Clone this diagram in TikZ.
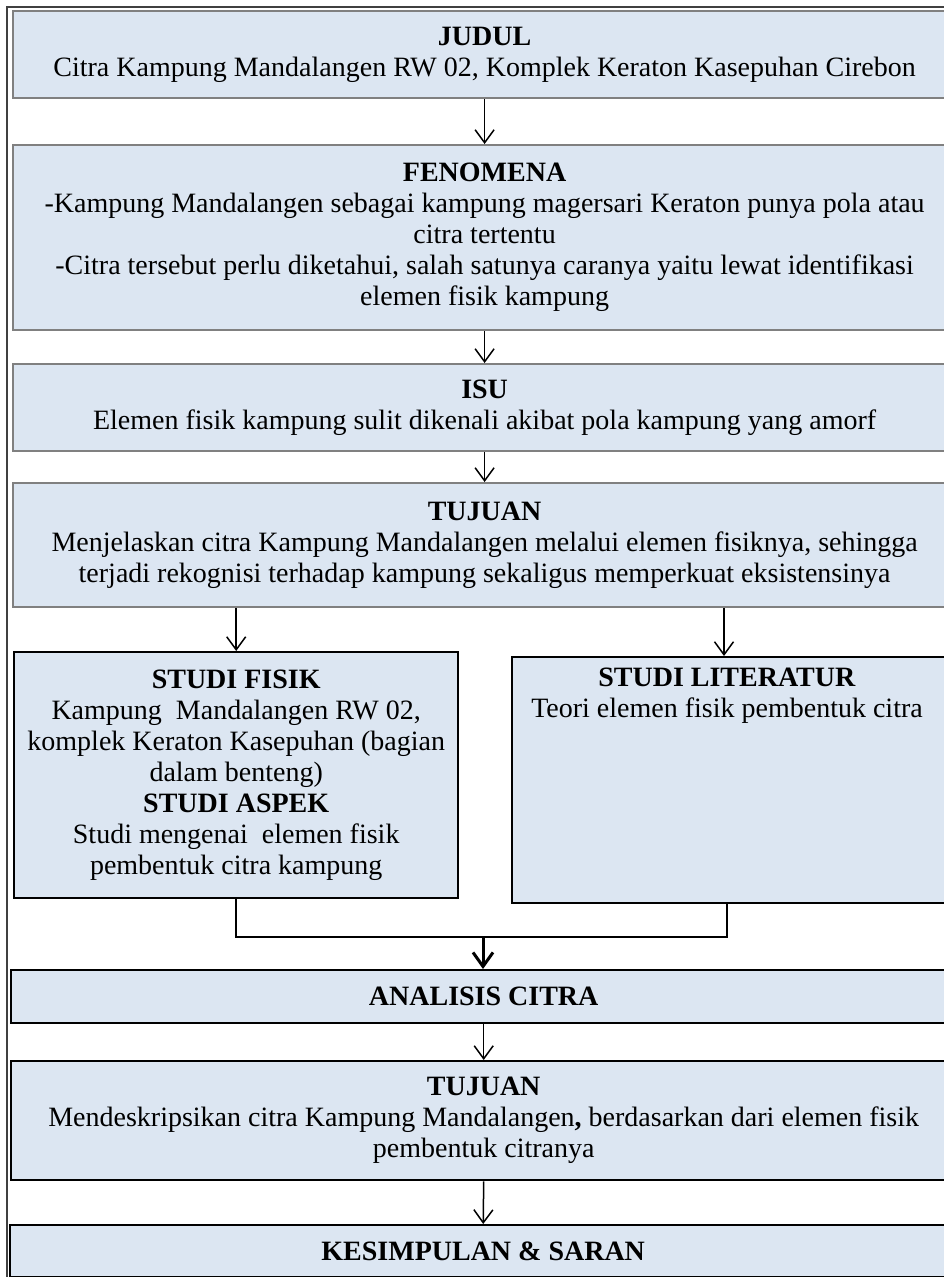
\documentclass[tikz,border=0pt]{standalone}
\usepackage{fontspec}
\setmainfont{Liberation Serif}
\usetikzlibrary{arrows.meta}
\definecolor{boxfill}{RGB}{220,230,242}
\definecolor{graybd}{RGB}{128,128,128}
\definecolor{framec}{RGB}{64,64,64}
\tikzset{
  txt/.style={font=\fontsize{28}{31}\selectfont, align=center, inner sep=2pt},
  graybox/.style={txt, rectangle, draw=graybd, line width=2.2pt, fill=boxfill, anchor=north west},
  blackbox/.style={txt, rectangle, draw=black, line width=2.4pt, fill=boxfill, anchor=north west},
  arr/.style={draw=black, line width=1.5pt, -{Straight Barb[length=13pt,width=19pt,line width=1.5pt]}},
  bigarr/.style={draw=black, line width=3pt, -{Straight Barb[length=14pt,width=20pt,line width=3pt]}},
  joinline/.style={draw=black, line width=1.5pt}
}
\begin{document}
\begin{tikzpicture}[x=1pt,y=-1pt]
\path[use as bounding box] (0,0) rectangle (944,1277);
\clip (0,0) rectangle (944,1277);
% outer frame
\draw[framec, line width=1.2pt] (7,1290) -- (7,7) -- (960,7);

\node[graybox, minimum width=943pt, minimum height=87pt] (judul) at (12,10)
  {\textbf{JUDUL}\\Citra Kampung Mandalangen RW 02, Komplek Keraton Kasepuhan Cirebon};
\node[graybox, minimum width=943pt, minimum height=185pt] (fenomena) at (12,144)
  {\textbf{FENOMENA}\\-Kampung Mandalangen sebagai kampung magersari Keraton punya pola atau\\citra tertentu\\-Citra tersebut perlu diketahui, salah satunya caranya yaitu lewat identifikasi\\elemen fisik kampung};
\node[graybox, minimum width=943pt, minimum height=87pt] (isu) at (12,363)
  {\textbf{ISU}\\Elemen fisik kampung sulit dikenali akibat pola kampung yang amorf};
\node[graybox, minimum width=943pt, minimum height=124pt] (tujuan) at (12,482)
  {\textbf{TUJUAN}\\Menjelaskan citra Kampung Mandalangen melalui elemen fisiknya, sehingga\\terjadi rekognisi terhadap kampung sekaligus memperkuat eksistensinya};

\node[blackbox, minimum width=444pt, minimum height=246pt] (fisik) at (13,651)
  {\textbf{STUDI FISIK}\\Kampung\ \ Mandalangen RW 02,\\komplek Keraton Kasepuhan (bagian\\dalam benteng)\\\textbf{STUDI ASPEK}\\Studi mengenai\ \ elemen fisik\\pembentuk citra kampung};
\node[blackbox, minimum width=444pt, minimum height=246pt] (literatur) at (511,656) {};
\node[txt, anchor=north] (littext) at (727,666)
  {\textbf{STUDI LITERATUR}\\Teori elemen fisik pembentuk citra};

\node[blackbox, minimum width=945pt, minimum height=53pt] (analisis) at (10,969)
  {\textbf{ANALISIS CITRA}};
\node[blackbox, minimum width=945pt, minimum height=119pt] (tujuan2) at (10,1060)
  {\textbf{TUJUAN}\\Mendeskripsikan citra Kampung Mandalangen\textbf{,} berdasarkan dari elemen fisik\\pembentuk citranya};
\node[blackbox, minimum width=946pt, minimum height=52pt] (kesimpulan) at (9,1224)
  {\textbf{KESIMPULAN \& SARAN}};

% connectors
\coordinate (litin) at (724,656);
\coordinate (litout) at (727,902);
\coordinate (merge) at (483,937);
\draw[arr] (judul.south) -- (fenomena.north);
\draw[arr] (fenomena.south) -- (isu.north);
\draw[arr] (isu.south) -- (tujuan.north);
\draw[arr] (tujuan.south -| fisik.north) -- (fisik.north);
\draw[arr] (tujuan.south -| litin) -- (litin);
\draw[joinline] (fisik.south) -- (fisik.south |- merge) -- (litout |- merge) -- (litout);
\draw[bigarr] (merge) -- (analisis.north -| merge);
\draw[arr] (analisis.south) -- (tujuan2.north);
\draw[arr] (tujuan2.south) -- (kesimpulan.north);
\end{tikzpicture}
\end{document}
